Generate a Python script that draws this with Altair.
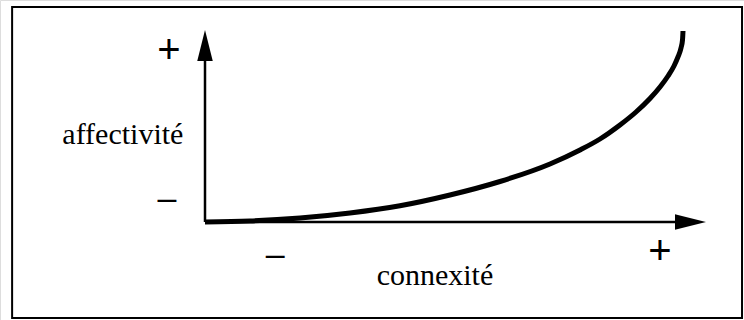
import altair as alt
import pandas as pd

# curve (connexité -> affectivité), in axis units (origin = 0, arrow tips = 1)
curve_x = [0.0, 0.0898, 0.1896, 0.2894, 0.3892, 0.4890, 0.5888, 0.6886, 0.7485, 0.7884,
           0.8283, 0.8603, 0.8882, 0.9082, 0.9242, 0.9361, 0.9441, 0.9501, 0.9531, 0.9541]
curve_y = [0.0, 0.0052, 0.0208, 0.0469, 0.0846, 0.1406, 0.2109, 0.3021, 0.375, 0.4323,
           0.5052, 0.5729, 0.6432, 0.7031, 0.7604, 0.8125, 0.8594, 0.9063, 0.9479, 0.9948]

sign_text = ["+", "–", "–", "+"]
sign_x = [-0.072, -0.076, 0.14, 0.908]
sign_y = [0.828, 0.068, -0.224, -0.219]
sign_size = [40, 34, 34, 40]

word_text = ["affectivité", "connexité"]
word_x = [-0.164, 0.459]
word_y = [0.406, -0.328]

X_DOM = [-205 / 501, (744 - 205) / 501]
Y_DOM = [-98 / 192, 222 / 192]

xs = alt.Scale(domain=X_DOM, nice=False, zero=False)
ys = alt.Scale(domain=Y_DOM, nice=False, zero=False)
noax = None

curve_df = pd.DataFrame({"x": curve_x, "y": curve_y})
signs_df = pd.DataFrame({"t": sign_text, "x": sign_x, "y": sign_y, "s": sign_size})
words_df = pd.DataFrame({"t": word_text, "x": word_x, "y": word_y})

frame_df = pd.DataFrame({"x": [-0.385], "x2": [1.0719], "y": [1.1198], "y2": [-0.5]})
axes_df = pd.DataFrame({"x": [0.0, 0.0], "x2": [0.0, 0.95], "y": [0.0, 0.0], "y2": [0.95, 0.0]})
heads_df = pd.DataFrame({"x": [0.0, 0.969], "y": [0.919, 0.0], "ang": [0, 90]})

X = lambda f: alt.X(f, type="quantitative", scale=xs, axis=noax)
Y = lambda f: alt.Y(f, type="quantitative", scale=ys, axis=noax)

frame = alt.Chart(frame_df).mark_rect(fill=None, stroke="black", strokeWidth=2).encode(
    x=X("x"), x2="x2", y=Y("y"), y2="y2"
)

axes = alt.Chart(axes_df).mark_rule(color="black", strokeWidth=2.5).encode(
    x=X("x"), x2="x2", y=Y("y"), y2="y2"
)

heads = alt.Chart(heads_df).mark_point(
    shape="M0,-1L0.5,1L-0.5,1Z", filled=True, color="black", opacity=1, size=31 * 31
).encode(x=X("x"), y=Y("y"), angle=alt.Angle("ang:Q", scale=None))

line = alt.Chart(curve_df).mark_line(
    color="black", strokeWidth=5, interpolate="monotone", strokeCap="butt"
).encode(x=X("x"), y=Y("y"), order=alt.Order("x:Q"))

signs = alt.Chart(signs_df).mark_text(
    font="Liberation Sans", baseline="alphabetic", align="center", color="black"
).encode(x=X("x"), y=Y("y"), text="t:N", size=alt.Size("s:Q", scale=None))

words = alt.Chart(words_df).mark_text(
    font="Liberation Serif", fontSize=30, baseline="alphabetic", align="center", color="black"
).encode(x=X("x"), y=Y("y"), text="t:N")

chart = (
    alt.layer(frame, axes, heads, line, signs, words)
    .properties(width=744, height=320, padding=0, autosize=alt.AutoSizeParams(type="none"))
    .configure_view(stroke=None)
    .configure(background="white")
)

chart.save("out.html", embed_options={"renderer": "svg", "actions": False})
